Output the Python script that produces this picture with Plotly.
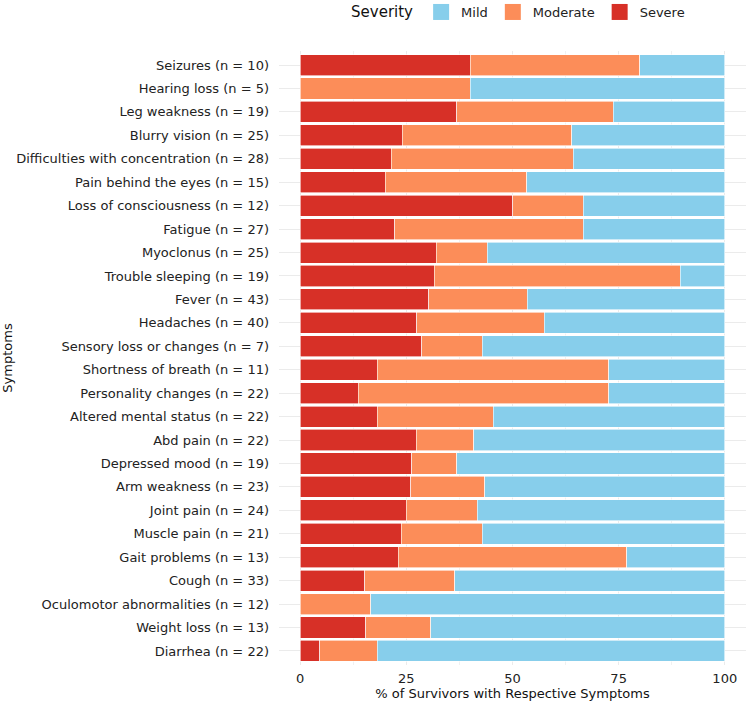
import plotly.graph_objects as go

symptoms = [
    "Seizures", "Hearing loss", "Leg weakness", "Blurry vision",
    "Difficulties with concentration", "Pain behind the eyes",
    "Loss of consciousness", "Fatigue", "Myoclonus", "Trouble sleeping",
    "Fever", "Headaches", "Sensory loss or changes", "Shortness of breath",
    "Personality changes", "Altered mental status", "Abd pain",
    "Depressed mood", "Arm weakness", "Joint pain", "Muscle pain",
    "Gait problems", "Cough", "Oculomotor abnormalities", "Weight loss",
    "Diarrhea",
]
n_total = [10, 5, 19, 25, 28, 15, 12, 27, 25, 19, 43, 40, 7, 11, 22, 22, 22,
           19, 23, 24, 21, 13, 33, 12, 13, 22]
severe_n = [4, 0, 7, 6, 6, 3, 6, 6, 8, 6, 13, 11, 2, 2, 3, 4, 6, 5, 6, 6, 5,
            3, 5, 0, 2, 1]
moderate_n = [4, 2, 7, 10, 12, 5, 2, 12, 3, 11, 10, 12, 1, 6, 13, 6, 3, 2, 4,
              4, 4, 7, 7, 2, 2, 3]
mild_n = [2, 3, 5, 9, 10, 7, 4, 9, 14, 2, 20, 17, 4, 3, 6, 12, 13, 12, 13,
          14, 12, 3, 21, 10, 9, 18]

x_ticks = [0, 25, 50, 75, 100]

labels = [f"{s} (n = {n})" for s, n in zip(symptoms, n_total)]

def pct(counts):
    return [100.0 * c / n for c, n in zip(counts, n_total)]

colors = {"Severe": "#D73027", "Moderate": "#FC8D59", "Mild": "#87CEEB"}
series = [("Severe", severe_n), ("Moderate", moderate_n), ("Mild", mild_n)]

fig = go.Figure()
for name, counts in series:
    fig.add_trace(go.Bar(
        y=labels, x=pct(counts), name=name, orientation="h",
        marker=dict(color=colors[name], line=dict(color="white", width=0.6)),
        width=0.9, showlegend=False, legendgroup=name,
    ))
# legend keys (larger square swatches, like the reference)
for name, _ in series:
    fig.add_trace(go.Scatter(
        x=[None], y=[None], mode="markers", name=name, legendgroup=name,
        marker=dict(symbol="square", size=16, color=colors[name]),
        showlegend=True, hoverinfo="skip",
    ))

N = len(labels)
fig.update_layout(
    width=747, height=706,
    margin=dict(l=279, r=1, t=51, b=41, autoexpand=False),
    barmode="stack",
    plot_bgcolor="white", paper_bgcolor="white",
    font=dict(family="DejaVu Sans", color="#222222"),
    bargap=0.1,
    legend=dict(
        orientation="h", traceorder="reversed", itemsizing="trace",
        x=0.15, xanchor="left", y=1.0635, yanchor="middle",
        title=dict(text="Severity", font=dict(size=15, color="#111111")),
        font=dict(size=13, color="#222222"),
        itemwidth=30,
    ),
    xaxis=dict(
        range=[-5, 105], tickvals=x_ticks, ticktext=[str(t) for t in x_ticks],
        showgrid=True, gridcolor="#EBEBEB", gridwidth=1, zeroline=False,
        minor=dict(dtick=12.5, tick0=0, showgrid=True, gridcolor="#F1F1F1", gridwidth=0.6),
        tickfont=dict(size=13, color="#222222"),
        ticks="", showline=False, ticklabelstandoff=4,
        title=dict(text="% of Survivors with Respective Symptoms", font=dict(size=13, color="#111111"), standoff=1),
    ),
    yaxis=dict(
        categoryorder="array", categoryarray=labels,
        range=[N - 1 + 0.6, -0.6],
        showgrid=True, gridcolor="#EBEBEB", gridwidth=1,
        tickfont=dict(size=13, color="#222222"),
        ticks="", ticklabelstandoff=9,
        title=dict(text="Symptoms", font=dict(size=13, color="#111111"), standoff=3),
    ),
)

fig.write_html("out.html")
